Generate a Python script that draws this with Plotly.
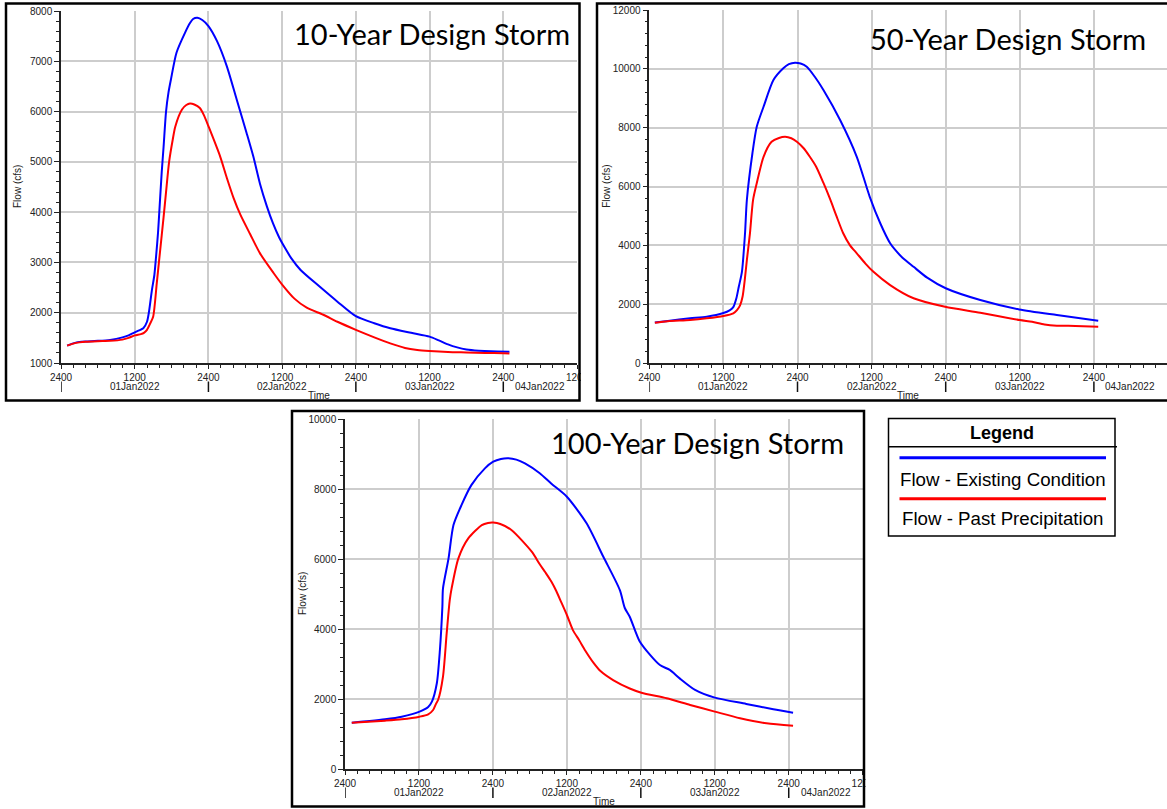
import pandas as pd
import plotly.graph_objects as go

# ---------------------------------------------------------------------------
# Hydrograph data: hours after 01Jan2022 00:00 and flow in cfs
# ---------------------------------------------------------------------------
T0 = pd.Timestamp("2022-01-01 00:00")

hours_10_existing = [1, 2, 3, 4, 6, 8, 10, 11, 12, 13, 13.4, 14, 14.3, 14.8, 15.2, 15.5,
                     15.8, 16, 16.4, 16.7, 17.1, 17.5, 17.9, 18.8, 20.2, 21, 21.5, 22.2,
                     23, 24, 25.4, 27, 28.6, 30.2, 31.3, 32.4, 33.5, 34.5, 35.5, 36.5,
                     37.5, 39, 42, 45, 48, 51, 53.6, 57, 60, 61.5, 63, 64.5, 66, 68, 70,
                     73]
flow_10_existing = [1345, 1390, 1420, 1430, 1440, 1460, 1510, 1550, 1610, 1665, 1690, 1820,
                    2000, 2450, 2750, 3150, 3600, 4000, 4800, 5300, 6000, 6380, 6640,
                    7170, 7570, 7760, 7840, 7865, 7820, 7700, 7400, 6900, 6240, 5580,
                    5110, 4560, 4120, 3780, 3500, 3280, 3080, 2850, 2530, 2220, 1930,
                    1790, 1690, 1600, 1525, 1450, 1370, 1310, 1270, 1245, 1232, 1225]
hours_10_past = [1, 2, 3, 4, 6, 8, 10, 11, 12, 13, 13.5, 14, 14.5, 15, 15.6, 16.1, 16.7,
                 17.1, 17.6, 18.2, 18.6, 19.7, 20.4, 21, 21.7, 22.6, 23.3, 24, 25.9,
                 27, 28.1, 29.2, 30.8, 32.4, 34.6, 36, 38, 40, 42.7, 45, 48, 51, 53.6,
                 56, 58, 60, 63, 66, 69, 72, 73]
flow_10_past = [1345, 1385, 1410, 1425, 1435, 1440, 1465, 1500, 1550, 1575, 1600, 1660,
                1780, 1920, 2600, 3190, 3900, 4400, 5000, 5450, 5700, 6040, 6130, 6160,
                6140, 6070, 5920, 5710, 5110, 4680, 4280, 3950, 3560, 3180, 2790, 2560,
                2280, 2100, 1960, 1820, 1660, 1510, 1390, 1300, 1260, 1240, 1220, 1210,
                1200, 1195, 1190]

hours_50_existing = [0.9, 3, 6.6, 9.3, 12, 13, 13.6, 14.1, 14.5, 15, 15.5, 15.8, 16.7,
                     17.4, 18.5, 20.1, 21.7, 22.6, 23.6, 24.5, 25.5, 26.8, 28.2, 30.9,
                     33.6, 35.7, 37.4, 39, 40, 41, 42.8, 45, 48, 53.6, 59.9, 66, 72.7]
flow_50_existing = [1380, 1430, 1518, 1575, 1700, 1790, 1900, 2200, 2600, 3100, 4400,
                    5540, 7130, 8030, 8710, 9620, 10020, 10160, 10210, 10180, 10070,
                    9730, 9280, 8260, 7010, 5650, 4750, 4070, 3800, 3580, 3270, 2900,
                    2540, 2140, 1820, 1630, 1440]
hours_50_past = [0.9, 3, 6.6, 9.3, 12, 13.6, 14.2, 14.7, 15.1, 15.5, 15.8, 16.3, 16.8,
                 17.4, 18.5, 19.8, 21, 22, 23, 23.9, 25, 26, 27, 28.2, 29.3, 30.3, 31.4,
                 32.5, 33.6, 35, 36.3, 39, 42.8, 47.9, 53.6, 60, 62, 64, 66, 69, 72.7]
flow_50_past = [1370, 1420, 1461, 1518, 1598, 1690, 1800, 1960, 2250, 2900, 3500, 4410,
                5540, 6110, 7010, 7520, 7650, 7690, 7640, 7520, 7300, 7010, 6680, 6120,
                5560, 5000, 4410, 4000, 3730, 3380, 3100, 2650, 2200, 1910, 1710, 1460,
                1400, 1310, 1270, 1260, 1235]

hours_100_existing = [1.1, 4, 6.5, 9.2, 12.1, 13.5, 14.1, 14.9, 15.4, 15.8, 15.9, 16.8,
                      17.6, 18.9, 20.5, 22.7, 24.05, 25.3, 26.5, 27.8, 29.2, 31.6, 33.5,
                      36, 39.2, 41.9, 44.6, 45.4, 46.2, 47.8, 49.5, 51.1, 52.7, 54.3,
                      56.8, 60, 65.1, 69.5, 72.7]
flow_100_existing = [1323, 1370, 1419, 1495, 1638, 1771, 1923, 2450, 3400, 4640, 5160,
                     6020, 6970, 7540, 8110, 8590, 8780, 8860, 8880, 8840, 8730, 8450,
                     8150, 7780, 7020, 6070, 5110, 4600, 4350, 3650, 3260, 2970, 2830,
                     2590, 2260, 2040, 1860, 1705, 1610]
hours_100_past = [1.1, 6.5, 9.2, 12.1, 13.5, 14.3, 14.8, 15.1, 15.9, 16.5, 17, 17.3, 18.4,
                  20, 22.2, 23.2, 24.05, 25.2, 27, 30.3, 31.6, 32.5, 33.5, 34.3, 35.1,
                  36, 37, 38, 39, 40.3, 41.5, 43.5, 46.2, 48.1, 52.2, 56, 60, 64.1,
                  68.4, 72.7]
flow_100_past = [1323, 1381, 1419, 1495, 1562, 1686, 1876, 1971, 2640, 3880, 4830, 5160,
                 6020, 6590, 6970, 7030, 7040, 7000, 6830, 6210, 5850, 5620, 5350, 5080,
                 4760, 4400, 3960, 3680, 3380, 3040, 2790, 2540, 2300, 2180, 2020, 1830,
                 1640, 1450, 1305, 1238]

SERIES_NAMES = ["Flow - Existing Condition", "Flow - Past Precipitation"]
SERIES_COLORS = ["#0000ff", "#ff0000"]
STORM_TITLES = ["10-Year Design Storm", "50-Year Design Storm", "100-Year Design Storm"]
Y_RANGES = [(1000, 8000), (0, 12000), (0, 10000)]
Y_MAJOR_STEP = [1000, 2000, 2000]
Y_MINOR_STEP = [200, 400, 400]
DAY_LABELS = ["01Jan2022", "02Jan2022", "03Jan2022", "04Jan2022"]
HOUR_TEXT = ["2400", "1200"]
Y_TITLE = "Flow (cfs)"
X_TITLE = "Time"
LEGEND_TITLE = "Legend"

storms = [
    [(hours_10_existing, flow_10_existing), (hours_10_past, flow_10_past)],
    [(hours_50_existing, flow_50_existing), (hours_50_past, flow_50_past)],
    [(hours_100_existing, flow_100_existing), (hours_100_past, flow_100_past)],
]

# ---------------------------------------------------------------------------
# Page geometry (pixels)
# ---------------------------------------------------------------------------
W, H = 1167, 809


def fx(px):
    return px / W


def fy(px):
    return 1 - px / H


# plot box (left, top, right, bottom), frame box, visible hours, title anchor
panels = [
    dict(plot=(61, 11, 577, 363), frame=(6, 3.5, 579.5, 400.5), span=84.0,
         title=(572, 34), clip=(581, 360, 596, 402)),
    dict(plot=(649.3, 10, 1167, 363), frame=(597, 3.5, 1180, 400.5),
         span=(1167 - 649.3) / 74.1 * 12, title=(1148, 38), clip=None),
    dict(plot=(345, 419, 862.7, 769), frame=(292, 411, 864, 806.5), span=84.0,
         title=(846, 442), clip=(865.5, 765, 886, 809)),
]


def at(h):
    return T0 + pd.Timedelta(hours=h)


def stamp(h):
    return at(h).strftime("%Y-%m-%d %H:%M:%S.%f")


TICK_FONT = dict(family="Liberation Sans, Arial, sans-serif", size=10, color="#222222")
GRID = "#cdcdcd"

fig = go.Figure()
shapes = []
annotations = []

for i, (panel, series) in enumerate(zip(panels, storms)):
    n = "" if i == 0 else str(i + 1)
    xa, ya = "x" + n, "y" + n
    for (hrs, flows), name, color in zip(series, SERIES_NAMES, SERIES_COLORS):
        fig.add_trace(go.Scatter(
            x=[stamp(h) for h in hrs], y=flows, mode="lines", name=name,
            line=dict(color=color, width=2, shape="spline", smoothing=0.7),
            showlegend=False, xaxis=xa, yaxis=ya, hoverinfo="skip"))

    left, top, right, bottom = panel["plot"]
    span = panel["span"]
    major = [h for h in range(0, 85, 12) if h <= span + 1e-6]
    ticktext = [HOUR_TEXT[0] if h % 24 == 0 else HOUR_TEXT[1] for h in major]

    fig.layout["xaxis" + n] = dict(
        domain=[fx(left), fx(right)], anchor=ya, type="date",
        range=[stamp(0), stamp(span)], tickmode="array",
        tickvals=[stamp(h) for h in major], ticktext=ticktext,
        showgrid=True, gridcolor=GRID, gridwidth=1.5,
        showline=True, linecolor="#222222", linewidth=1.5,
        ticks="outside", ticklen=4, tickcolor="#222222", tickfont=TICK_FONT,
        minor=dict(tickmode="linear", tick0=stamp(0), dtick=2 * 3600 * 1000,
                   ticks="outside", ticklen=3, tickcolor="#222222", showgrid=False),
        zeroline=False, fixedrange=True, automargin=False,
    )
    y0, y1 = Y_RANGES[i]
    fig.layout["yaxis" + n] = dict(
        domain=[fy(bottom), fy(top)], anchor=xa, range=[y0, y1],
        tickmode="linear", tick0=y0, dtick=Y_MAJOR_STEP[i], tickformat="d",
        showgrid=True, gridcolor=GRID, gridwidth=1.5,
        showline=True, linecolor="#222222", linewidth=1.5,
        ticks="outside", ticklen=5, tickcolor="#222222", tickfont=TICK_FONT,
        minor=dict(dtick=Y_MINOR_STEP[i], ticks="outside", ticklen=3,
                   tickcolor="#222222", showgrid=False),
        zeroline=False, fixedrange=True, automargin=False,
    )

    # cut-off hour label at the right edge of a cropped axis
    if span < 84:
        annotations.append(dict(
            x=stamp(84), y=0, xref=xa, yref=ya + " domain", text=HOUR_TEXT[1],
            showarrow=False, xanchor="center", yanchor="middle", yshift=-12,
            font=TICK_FONT))

    # day boundary markers on the second label row
    for h in range(0, 85, 24):
        if h > span:
            continue
        shapes.append(dict(type="line", xref=xa, yref=ya + " domain",
                           x0=stamp(h), x1=stamp(h), ysizemode="pixel", yanchor=0,
                           y0=-18.5, y1=-29, line=dict(color="#111111", width=1.5)))

    # day names centred on the visible part of each day
    for d, label in enumerate(DAY_LABELS):
        a, b = 24 * d, min(24 * (d + 1), span)
        if a >= span:
            continue
        annotations.append(dict(
            x=stamp((a + b) / 2), y=0, xref=xa, yref=ya + " domain", text=label,
            showarrow=False, xanchor="center", yanchor="middle", yshift=-23.5,
            font=TICK_FONT))

    # axis titles
    annotations.append(dict(
        x=0.5, y=0, xref=xa + " domain", yref=ya + " domain", text=X_TITLE,
        showarrow=False, xanchor="center", yanchor="middle", yshift=-32.5,
        font=TICK_FONT))
    annotations.append(dict(
        x=0, y=0.5, xref=xa + " domain", yref=ya + " domain", text=Y_TITLE,
        showarrow=False, textangle=-90, xanchor="center", yanchor="middle",
        xshift=-43, font=TICK_FONT))

    # storm title
    tx, ty = panel["title"]
    annotations.append(dict(
        x=fx(tx), y=fy(ty), xref="paper", yref="paper", text=STORM_TITLES[i],
        showarrow=False, xanchor="right", yanchor="middle",
        font=dict(family="Lato, sans-serif", size=29, color="#000000")))

    # white margin that trims the overflowing edge label, then the frame
    if panel["clip"]:
        cx0, cy0, cx1, cy1 = panel["clip"]
        shapes.append(dict(type="rect", xref="paper", yref="paper", layer="above",
                           x0=fx(cx0), x1=fx(cx1), y0=fy(cy1), y1=fy(cy0),
                           fillcolor="white", line=dict(width=0)))
    fl, ft, fr, fb = panel["frame"]
    shapes.append(dict(type="rect", xref="paper", yref="paper", layer="above",
                       x0=fx(fl), x1=fx(fr), y0=fy(fb), y1=fy(ft),
                       line=dict(color="#000000", width=2.5)))

# ---------------------------------------------------------------------------
# Legend box
# ---------------------------------------------------------------------------
LX0, LX1, LY0, LY1 = 888.5, 1115, 418.5, 536
LEGEND_FONT = dict(family="Liberation Sans, Arial, sans-serif", size=18.7,
                   color="#000000")
shapes.append(dict(type="rect", xref="paper", yref="paper", layer="above",
                   x0=fx(LX0), x1=fx(LX1), y0=fy(LY1), y1=fy(LY0),
                   line=dict(color="#000000", width=1.5)))
shapes.append(dict(type="line", xref="paper", yref="paper", layer="above",
                   x0=fx(LX0), x1=fx(LX1 + 2), y0=fy(446.7), y1=fy(446.7),
                   line=dict(color="#000000", width=1.5)))
annotations.append(dict(
    x=fx((LX0 + LX1) / 2), y=fy(433), xref="paper", yref="paper",
    text="<b>" + LEGEND_TITLE + "</b>", showarrow=False, xanchor="center",
    yanchor="middle", font=dict(LEGEND_FONT, size=18)))
for k, (name, color) in enumerate(zip(SERIES_NAMES, SERIES_COLORS)):
    line_y = 457.7 + 41 * k
    text_y = 480 + 38.5 * k
    shapes.append(dict(type="line", xref="paper", yref="paper", layer="above",
                       x0=fx(899.5), x1=fx(1106), y0=fy(line_y), y1=fy(line_y),
                       line=dict(color=color, width=3)))
    annotations.append(dict(
        x=fx(1002.5), y=fy(text_y), xref="paper", yref="paper", text=name,
        showarrow=False, xanchor="center", yanchor="middle", font=LEGEND_FONT))

fig.update_layout(
    width=W, height=H,
    margin=dict(l=0, r=0, t=0, b=0, pad=0, autoexpand=False),
    paper_bgcolor="white", plot_bgcolor="white",
    shapes=shapes, annotations=annotations, showlegend=False,
)

fig.write_html("out.html")
